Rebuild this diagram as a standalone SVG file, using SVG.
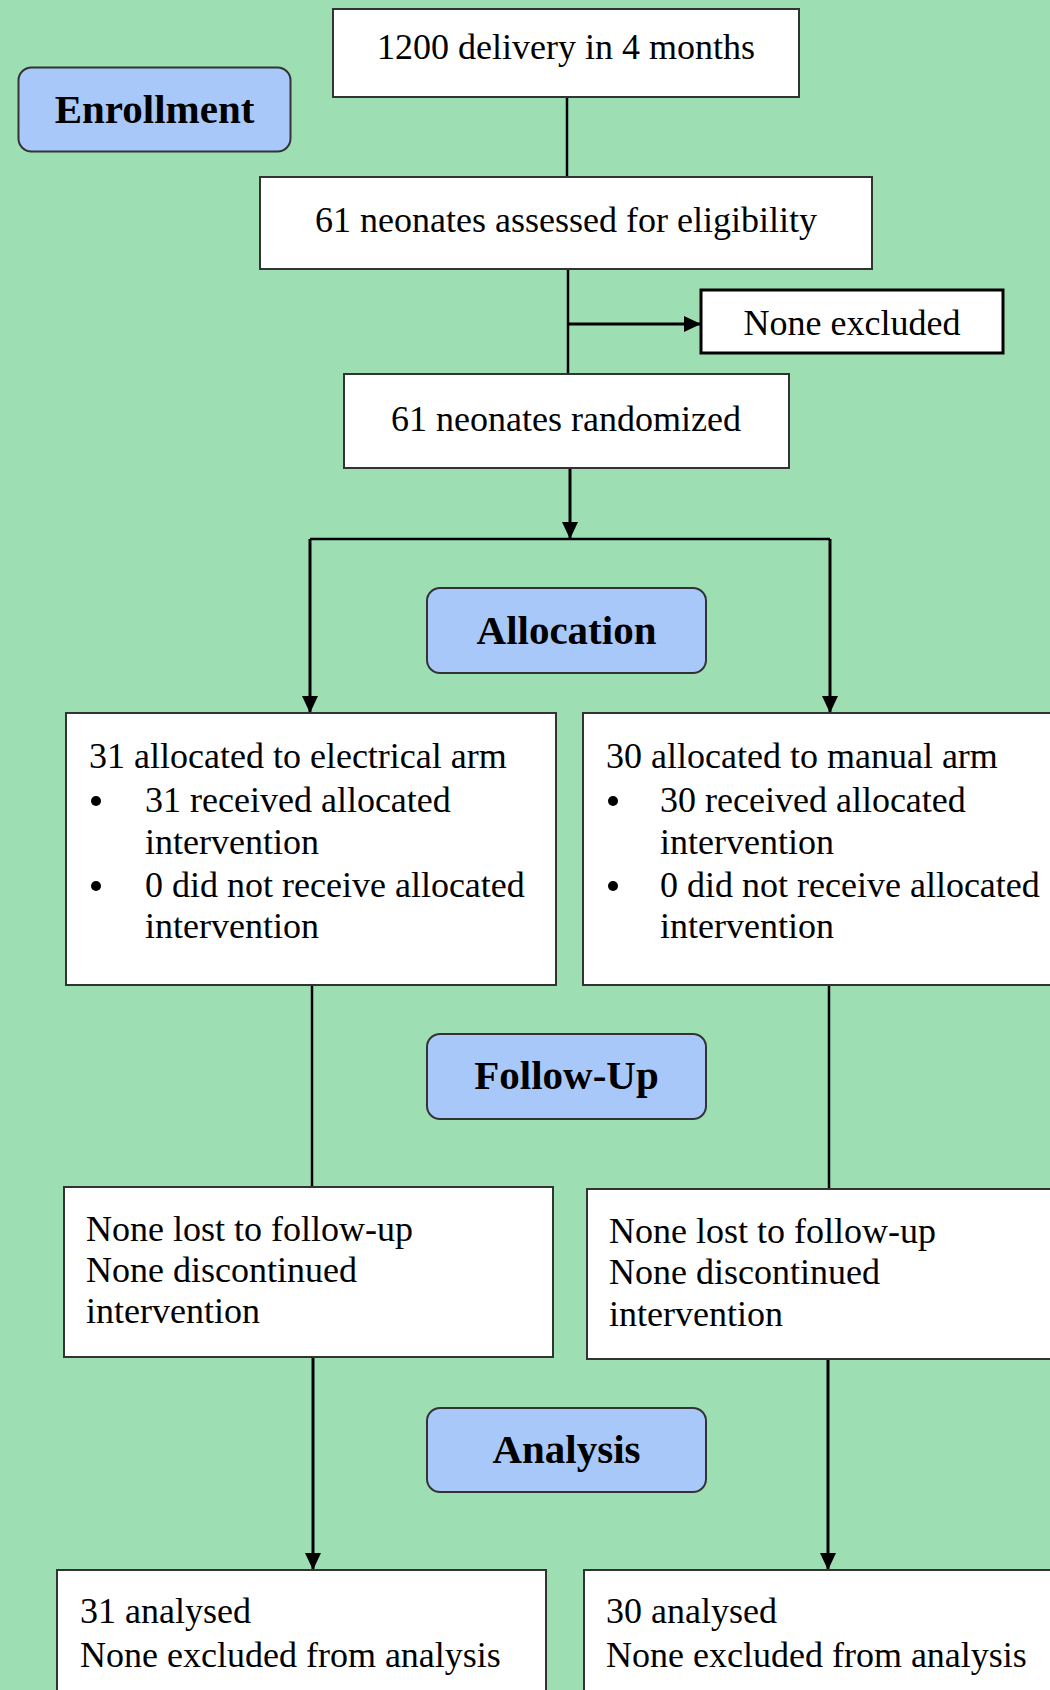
<svg xmlns="http://www.w3.org/2000/svg" width="1050" height="1690" viewBox="0 0 1050 1690">
<defs>
<marker id="ah" viewBox="0 0 17 16" refX="16" refY="8" markerWidth="17" markerHeight="16" markerUnits="userSpaceOnUse" orient="auto">
<path d="M0,0 L17,8 L0,16 Z" fill="#000"/>
</marker>
<style>
.box{fill:#fff;stroke:#333;stroke-width:2}
.lbl{fill:#A9C8FA;stroke:#333;stroke-width:2}
.t{font-family:"Liberation Serif","Times New Roman",serif;font-size:36px;fill:#000}
.c{text-anchor:middle}
.h{font-family:"Liberation Serif","Times New Roman",serif;font-size:41px;font-weight:bold;fill:#000;text-anchor:middle}
.ln{stroke:#000;stroke-width:2.5;fill:none}
.arr{stroke:#000;stroke-width:3;fill:none;marker-end:url(#ah)}
</style>
</defs>
<rect x="0" y="0" width="1050" height="1690" fill="#9DDFB3"/>

<g id="connectors">
<line class="ln" x1="567" y1="97" x2="567" y2="177"/>
<line class="ln" x1="568" y1="269" x2="568" y2="374"/>
<line class="arr" x1="568" y1="324" x2="700" y2="324"/>
<line class="arr" x1="570" y1="468" x2="570" y2="538"/>
<polyline class="ln" points="310,539 830,539"/>
<line class="arr" x1="310" y1="539" x2="310" y2="712"/>
<line class="arr" x1="830" y1="539" x2="830" y2="712"/>
<line class="ln" x1="312" y1="985" x2="312" y2="1187"/>
<line class="ln" x1="829" y1="985" x2="829" y2="1189"/>
<line class="arr" x1="313" y1="1357" x2="313" y2="1569"/>
<line class="arr" x1="828" y1="1359" x2="828" y2="1569"/>
</g>

<g id="enrollment">
<rect class="lbl" x="18.5" y="67.5" width="272" height="84" rx="13"/>
<text class="h" x="154.5" y="123">Enrollment</text>
</g>

<g id="delivery">
<rect class="box" x="333" y="9" width="466" height="88"/>
<text class="t c" x="566" y="59">1200 delivery in 4 months</text>
</g>

<g id="assessed">
<rect class="box" x="260" y="177" width="612" height="92"/>
<text class="t c" x="566" y="232">61 neonates assessed for eligibility</text>
</g>

<g id="excluded">
<rect x="701" y="290" width="302" height="63" fill="#fff" stroke="#000" stroke-width="3"/>
<text class="t c" x="852" y="335">None excluded</text>
</g>

<g id="randomized">
<rect class="box" x="344" y="374" width="445" height="94"/>
<text class="t c" x="566" y="431">61 neonates randomized</text>
</g>

<g id="allocation">
<rect class="lbl" x="427" y="588" width="279" height="85" rx="13"/>
<text class="h" x="566.5" y="644">Allocation</text>
</g>

<g id="alloc-left">
<rect class="box" x="66" y="713" width="490" height="272"/>
<text class="t" x="89" y="768">31 allocated to electrical arm</text>
<circle cx="96" cy="801" r="5"/>
<text class="t" x="145" y="812">31 received allocated</text>
<text class="t" x="145" y="854">intervention</text>
<circle cx="96" cy="886" r="5"/>
<text class="t" x="145" y="897">0 did not receive allocated</text>
<text class="t" x="145" y="938">intervention</text>
</g>

<g id="alloc-right">
<rect class="box" x="583" y="713" width="480" height="272"/>
<text class="t" x="606" y="768">30 allocated to manual arm</text>
<circle cx="613" cy="801" r="5"/>
<text class="t" x="660" y="812">30 received allocated</text>
<text class="t" x="660" y="854">intervention</text>
<circle cx="613" cy="886" r="5"/>
<text class="t" x="660" y="897">0 did not receive allocated</text>
<text class="t" x="660" y="938">intervention</text>
</g>

<g id="followup">
<rect class="lbl" x="427" y="1034" width="279" height="85" rx="13"/>
<text class="h" x="566.5" y="1089">Follow-Up</text>
</g>

<g id="follow-left">
<rect class="box" x="64" y="1187" width="489" height="170"/>
<text class="t" x="86" y="1241">None lost to follow-up</text>
<text class="t" x="86" y="1282">None discontinued</text>
<text class="t" x="86" y="1323">intervention</text>
</g>

<g id="follow-right">
<rect class="box" x="587" y="1189" width="470" height="170"/>
<text class="t" x="609" y="1243">None lost to follow-up</text>
<text class="t" x="609" y="1284">None discontinued</text>
<text class="t" x="609" y="1326">intervention</text>
</g>

<g id="analysis">
<rect class="lbl" x="427" y="1408" width="279" height="84" rx="13"/>
<text class="h" x="566.5" y="1463">Analysis</text>
</g>

<g id="analysis-left">
<rect class="box" x="57" y="1570" width="489" height="140"/>
<text class="t" x="80" y="1623">31 analysed</text>
<text class="t" x="80" y="1667">None excluded from analysis</text>
</g>

<g id="analysis-right">
<rect class="box" x="584" y="1570" width="480" height="140"/>
<text class="t" x="606" y="1623">30 analysed</text>
<text class="t" x="606" y="1667">None excluded from analysis</text>
</g>
</svg>
